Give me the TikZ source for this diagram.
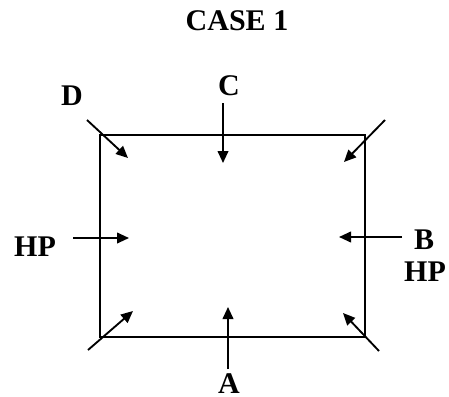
\documentclass[tikz,border=0pt]{standalone}
\usepackage{fontspec}
\setmainfont{Liberation Serif}
\usetikzlibrary{arrows.meta}
\tikzset{
  label/.style={
    inner sep=0pt,
    font=\bfseries\fontsize{22.5}{26}\selectfont
  },
  wall/.style={
    line width=1.4pt,
    draw=black
  },
  push/.style={
    -{Triangle[length=9pt,width=8pt]},
    line width=1.4pt,
    draw=black
  }
}
\begin{document}
\begin{tikzpicture}[x=0.75pt,y=-0.75pt]
\useasboundingbox (0,0) rectangle (449,396);
\node[label] (title) at (237,21) {CASE 1};
% block outline
\coordinate (tl) at (100,135);
\coordinate (br) at (365,337);
\draw[wall] (tl) rectangle (br);
% labels
\node[label] (d) at (72,96) {D};
\node[label] (c) at (229,86) {C};
\node[label] (hpl) at (35,247) {HP};
\node[label] (b) at (424,240) {B};
\node[label] (hpr) at (425,272) {HP};
\node[label, anchor=north] (a) at (229,373) {A};
% arrow ends
\coordinate (d0) at (87,120);   \coordinate (d1) at (128,158);
\coordinate (c0) at (223,103);  \coordinate (c1) at (223,163);
\coordinate (tr0) at (385,120); \coordinate (tr1) at (344,162);
\coordinate (l0) at (73,238);   \coordinate (l1) at (129,238);
\coordinate (b0) at (402,237);  \coordinate (b1) at (339,237);
\coordinate (bl0) at (88,350);  \coordinate (bl1) at (133,311);
\coordinate (a0) at (228,369);  \coordinate (a1) at (228,307);
\coordinate (br0) at (379,351); \coordinate (br1) at (343,313);
\draw[push] (d0) -- (d1);
\draw[push] (c0) -- (c1);
\draw[push] (tr0) -- (tr1);
\draw[push] (l0) -- (l1);
\draw[push] (b0) -- (b1);
\draw[push] (bl0) -- (bl1);
\draw[push] (a0) -- (a1);
\draw[push] (br0) -- (br1);
\end{tikzpicture}
\end{document}
